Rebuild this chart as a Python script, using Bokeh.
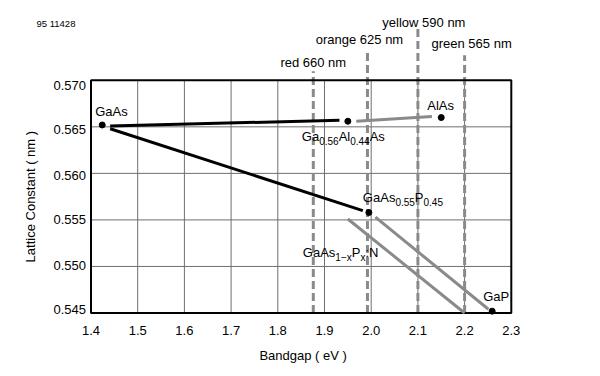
import math
from bokeh.plotting import figure
from bokeh.models import ColumnDataSource
from bokeh.core.properties import value
from bokeh.embed import file_html
from bokeh.resources import INLINE

# ---------------- data ----------------
BANDGAP_TICKS = [1.4, 1.5, 1.6, 1.7, 1.8, 1.9, 2.0, 2.1, 2.2, 2.3]
BANDGAP_TICK_LABELS = ["1.4", "1.5", "1.6", "1.7", "1.8", "1.9", "2.0", "2.1", "2.2", "2.3"]
LATTICE_TICKS = [0.545, 0.550, 0.555, 0.560, 0.565, 0.570]
LATTICE_TICK_LABELS = ["0.545", "0.550", "0.555", "0.560", "0.565", "0.570"]

# compounds (bandgap eV, lattice constant nm)
COMPOUND_BANDGAP = [1.424, 1.950, 2.150, 1.995, 2.259]
COMPOUND_LATTICE = [0.5652, 0.5656, 0.5660, 0.5558, 0.5452]
# labels as (text, is_subscript) pieces
COMPOUND_LABELS = [
    [("GaAs", False)],
    [("Ga", False), ("0.56", True), ("Al", False), ("0.44", True), ("As", False)],
    [("AlAs", False)],
    [("GaAs", False), ("0.55", True), ("P", False), ("0.45", True)],
    [("GaP", False)],
]
NITROGEN_LABEL = [("GaAs", False), ("1\u2212x", True), ("P", False), ("x", True), (":N", False)]

# black alloy lines
BLACK_X0 = [1.441, 1.441]
BLACK_Y0 = [0.5651, 0.5648]
BLACK_X1 = [1.932, 1.982]
BLACK_Y1 = [0.5657, 0.5560]
# grey alloy lines
GREY_X0 = [1.968, 1.950, 2.009]
GREY_Y0 = [0.5656, 0.5551, 0.5553]
GREY_X1 = [2.130, 2.200, 2.251]
GREY_Y1 = [0.5661, 0.5450, 0.5454]

# emission colours
COLOR_NAMES = ["red 660 nm", "orange 625 nm", "yellow 590 nm", "green 565 nm"]
COLOR_BANDGAP = [1.876, 1.992, 2.100, 2.200]

X_TITLE = "Bandgap ( eV )"
Y_TITLE = "Lattice Constant ( nm )"
FIG_ID = "95 11428"

# ---------------- layout / style ----------------
PX_PER_EV = 467.0
PX_PER_NM = 9308.0
W, H = 600, 376
BOX_LEFT_PX = 90.5     # canvas x of bandgap 1.4
BOX_BOTTOM_PX = 312.5  # canvas y of lattice 0.545
x0 = BANDGAP_TICKS[0] - BOX_LEFT_PX / PX_PER_EV
x1 = x0 + W / PX_PER_EV
y0 = LATTICE_TICKS[0] - (H - BOX_BOTTOM_PX) / PX_PER_NM
y1 = y0 + H / PX_PER_NM


def x_at(px):
    return x0 + px / PX_PER_EV


def y_at(py):
    return y0 + (H - py) / PX_PER_NM


FONT = "Liberation Sans"
MAIN = 13
SUB = 10
GRID_C = "#6f6f6f"
GREY = "#8a8a8a"
TXT = dict(text_font=value(FONT), text_color="black")

p = figure(width=W, height=H, x_range=(x0, x1), y_range=(y0, y1),
           output_backend="svg", toolbar_location=None,
           x_axis_location=None, y_axis_location=None,
           min_border=0)
p.outline_line_color = None
p.grid.visible = False
p.background_fill_color = "white"
p.border_fill_color = "white"

xlo, xhi = BANDGAP_TICKS[0], BANDGAP_TICKS[-1]
ylo, yhi = LATTICE_TICKS[0], LATTICE_TICKS[-1]

# grid lines inside the box
gx = BANDGAP_TICKS[1:-1]
p.segment(x0=gx, y0=[ylo] * len(gx), x1=gx, y1=[yhi] * len(gx), line_color=GRID_C, line_width=1)
gy = LATTICE_TICKS[1:-1]
p.segment(x0=[xlo] * len(gy), y0=gy, x1=[xhi] * len(gy), y1=gy, line_color=GRID_C, line_width=1)

# dashed emission-colour markers, extending above the box
tops_px = [9, 30, 52, 25]
tops = [yhi + t / PX_PER_NM for t in tops_px]
p.segment(x0=COLOR_BANDGAP, y0=[ylo] * 4, x1=COLOR_BANDGAP, y1=tops,
          line_color=GREY, line_width=3, line_dash="8 4")
p.text(x=COLOR_BANDGAP, y=tops, text=COLOR_NAMES,
       x_offset=[0, -8, 6, 7], y_offset=[-9, -11, -6, -12],
       text_font_size=f"{MAIN}px", text_align="center", text_baseline="middle", **TXT)

# box
p.quad(left=[xlo], right=[xhi], bottom=[ylo], top=[yhi], fill_color=None,
       line_color="black", line_width=2)

# tick labels
p.text(x=BANDGAP_TICKS, y=[ylo] * len(BANDGAP_TICKS), text=BANDGAP_TICK_LABELS,
       y_offset=17, text_font_size=f"{MAIN}px", text_align="center",
       text_baseline="middle", **TXT)
p.text(x=[xlo] * len(LATTICE_TICKS), y=LATTICE_TICKS, text=LATTICE_TICK_LABELS,
       x_offset=-5, y_offset=[-4, -1, 0, 2, 3, 5], text_font_size=f"{MAIN}px",
       text_align="right", text_baseline="middle", **TXT)

# axis titles and figure id
p.text(x=[(xlo + xhi) / 2], y=[y_at(355)], text=[X_TITLE], x_offset=2,
       text_font_size=f"{MAIN}px", text_align="center", text_baseline="middle", **TXT)
p.text(x=[x_at(30)], y=[(ylo + yhi) / 2], text=[Y_TITLE], angle=math.pi / 2,
       text_font_size=f"{MAIN}px", text_align="center", text_baseline="middle", **TXT)
p.text(x=[x_at(36)], y=[y_at(23)], text=[FIG_ID], text_font_size="9.5px",
       text_align="left", text_baseline="middle", **TXT)

# alloy lines
p.segment(x0=GREY_X0, y0=GREY_Y0, x1=GREY_X1, y1=GREY_Y1, line_color=GREY, line_width=3)
p.segment(x0=BLACK_X0, y0=BLACK_Y0, x1=BLACK_X1, y1=BLACK_Y1, line_color="black", line_width=3)

# compound points
p.scatter(COMPOUND_BANDGAP, COMPOUND_LATTICE, size=6, color="black")

# ---- labels with subscripts ----
CW = {"G": .778, "a": .556, "A": .667, "l": .222, "s": .5, "P": .667, "N": .722,
      ":": .278, ".": .278, "x": .5, "\u2212": .584, " ": .278}
for d in "0123456789":
    CW[d] = .556


def width(txt, size):
    return sum(CW.get(c, .556) for c in txt) * size


main = dict(x=[], y=[], text=[], xo=[], yo=[])
sub = dict(x=[], y=[], text=[], xo=[], yo=[])


def place(pieces, x, y, dx, dy):
    off = dx
    for txt, is_sub in pieces:
        tgt = sub if is_sub else main
        tgt["x"].append(x)
        tgt["y"].append(y)
        tgt["text"].append(txt)
        tgt["xo"].append(off)
        tgt["yo"].append(dy + (5 if is_sub else 0))
        off += width(txt, SUB if is_sub else MAIN)


label_offsets = [(-7, -13), (-46, 15), (-14, -12), (-6, -15), (-9, -15)]
for pieces, bx, ly, (dx, dy) in zip(COMPOUND_LABELS, COMPOUND_BANDGAP, COMPOUND_LATTICE, label_offsets):
    place(pieces, bx, ly, dx, dy)
place(NITROGEN_LABEL, GREY_X0[1], GREY_Y0[1], -45, 34)

p.text(x="x", y="y", text="text", x_offset="xo", y_offset="yo",
       source=ColumnDataSource(main), text_font_size=f"{MAIN}px",
       text_align="left", text_baseline="middle", **TXT)
p.text(x="x", y="y", text="text", x_offset="xo", y_offset="yo",
       source=ColumnDataSource(sub), text_font_size=f"{SUB}px",
       text_align="left", text_baseline="middle", **TXT)

open("out.html", "w").write(file_html(p, INLINE))
